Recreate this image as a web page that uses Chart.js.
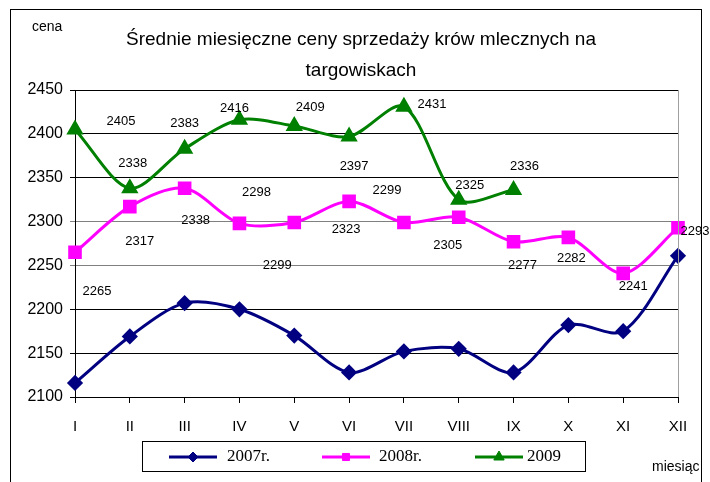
<!DOCTYPE html>
<html>
<head>
<meta charset="utf-8">
<script src="https://cdn.jsdelivr.net/npm/chart.js@4.4.1/dist/chart.umd.min.js"></script>
<style>
html, body { margin: 0; padding: 0; background: #fff; }
#wrap { width: 710px; height: 482px; position: relative; }
</style>
</head>
<body>
<div id="wrap"><canvas id="myChart"></canvas></div>
<script>
var miesiace = ["I", "II", "III", "IV", "V", "VI", "VII", "VIII", "IX", "X", "XI", "XII"];
var ceny2007 = [2116, 2169, 2207, 2200, 2170, 2128, 2152, 2155, 2128, 2182, 2175, 2261];
var ceny2008 = [2265, 2317, 2338, 2298, 2299, 2323, 2299, 2305, 2277, 2282, 2241, 2293];
var ceny2009 = [2405, 2338, 2383, 2416, 2409, 2397, 2431, 2325, 2336];
var yMin = 2100, yMax = 2450, yKrok = 50;
var tytul = ["Średnie miesięczne ceny sprzedaży krów mlecznych na", "targowiskach"];

// przesuniecia etykiet (jak w oryginale, rozrzucone)
var przes2008 = [[22, 39], [10, 35], [11, 32], [17, -31], [-17, 43], [-3, 28], [-17, -32], [-11, 28], [9, 24], [3, 21], [10, 13], [17, 4]];
var przes2009 = [[46, -8], [3, -25], [0, -25], [-5, -11], [16, -19], [5, 30], [28, -2], [11, -14], [11, -24]];

var dodatki = {
    id: 'dodatki',
    afterDraw: function(chart) {
        var ctx = chart.ctx;
        var a = chart.chartArea;
        ctx.save();

        // ramka
        ctx.strokeStyle = '#000';
        ctx.lineWidth = 1;
        ctx.strokeRect(10.5, 9.5, 691, 490);

        // prawa krawedz obszaru
        ctx.strokeStyle = '#a0a0a0';
        ctx.beginPath();
        ctx.moveTo(a.right + 0.5, a.top);
        ctx.lineTo(a.right + 0.5, a.bottom);
        ctx.stroke();

        ctx.fillStyle = '#000';
        ctx.textAlign = 'center';
        ctx.textBaseline = 'middle';
        ctx.font = '19px "Liberation Sans", Arial, sans-serif';
        ctx.fillText(tytul[0], 361, 40);
        ctx.fillText(tytul[1], 361, 71);

        ctx.font = '14px "Liberation Sans", Arial, sans-serif';
        ctx.textAlign = 'left';
        ctx.fillText('cena', 32, 27);
        ctx.fillText('miesiąc', 652, 467);

        // etykiety danych
        ctx.font = '13px "Liberation Sans", Arial, sans-serif';
        ctx.textAlign = 'center';
        var rysuj = function(idx, przes) {
            var meta = chart.getDatasetMeta(idx);
            var dane = chart.data.datasets[idx].data;
            meta.data.forEach(function(pt, i) {
                ctx.fillText(dane[i], pt.x + przes[i][0], pt.y + przes[i][1]);
            });
        };
        rysuj(1, przes2008);
        rysuj(2, przes2009);

        // legenda
        ctx.strokeStyle = '#000';
        ctx.lineWidth = 1;
        ctx.strokeRect(142.5, 441.5, 443, 30);
        var xs = [169, 322, 475];
        var tx = [227, 379, 527];
        var rozm = [5, 5, 6];
        ctx.font = '17px "Liberation Serif", "Times New Roman", serif';
        ctx.textAlign = 'left';
        chart.data.datasets.forEach(function(ds, i) {
            var x0 = xs[i], y0 = 457;
            ctx.strokeStyle = ds.borderColor;
            ctx.lineWidth = 3;
            ctx.beginPath();
            ctx.moveTo(x0, y0);
            ctx.lineTo(x0 + 48, y0);
            ctx.stroke();
            ctx.fillStyle = ds.pointBackgroundColor;
            ctx.strokeStyle = ds.borderColor;
            ctx.lineWidth = 1;
            Chart.helpers.drawPoint(ctx, { pointStyle: ds.pointStyle, radius: rozm[i], rotation: 0, borderWidth: 1 }, x0 + 24, y0);
            ctx.fillStyle = '#000';
            ctx.fillText(ds.label, tx[i], y0);
        });

        ctx.restore();
    }
};

var ctx = document.getElementById("myChart");
var myChart = new Chart(ctx, {
    type: 'line',
    data: {
        labels: miesiace,
        datasets: [{
            label: '2007r.',
            data: ceny2007,
            borderColor: '#000080',
            backgroundColor: '#000080',
            pointBackgroundColor: '#000080',
            pointBorderColor: '#000080',
            pointStyle: 'rectRot',
            pointRadius: 6,
            borderWidth: 3,
            tension: 0.3,
            order: 3
        }, {
            label: '2008r.',
            data: ceny2008,
            borderColor: '#ff00ff',
            backgroundColor: '#ff00ff',
            pointBackgroundColor: '#ff00ff',
            pointBorderColor: '#ff00ff',
            pointStyle: 'rect',
            pointRadius: 7.5,
            borderWidth: 3,
            tension: 0.3,
            order: 2
        }, {
            label: '2009',
            data: ceny2009,
            borderColor: '#008000',
            backgroundColor: '#008000',
            pointBackgroundColor: '#008000',
            pointBorderColor: '#008000',
            pointStyle: 'triangle',
            pointRadius: 7,
            borderWidth: 3,
            tension: 0.3,
            order: 1
        }]
    },
    options: {
        responsive: true,
        maintainAspectRatio: false,
        animation: false,
        layout: { padding: { left: 15, right: 32, top: 90, bottom: 45 } },
        plugins: {
            legend: { display: false },
            title: { display: false },
            tooltip: { enabled: false }
        },
        scales: {
            x: {
                offset: false,
                grid: { display: true, drawOnChartArea: false, drawTicks: true, tickLength: 6, color: '#000' },
                border: { display: true, color: '#000', width: 1 },
                ticks: {
                    color: '#000',
                    padding: 15,
                    maxRotation: 0,
                    autoSkip: false,
                    font: { family: '"Liberation Sans Narrow", "Liberation Sans", Arial, sans-serif', size: 15 }
                },
                afterFit: function(s) { s.height = 40; }
            },
            y: {
                min: yMin,
                max: yMax,
                grid: {
                    tickLength: 5,
                    color: function(c) {
                        var v = c.tick ? c.tick.value : 0;
                        return (v == 2300 || v == 2250) ? '#808080' : '#000';
                    }
                },
                border: { display: true, color: '#000', width: 1 },
                ticks: {
                    stepSize: yKrok,
                    color: '#000',
                    padding: 7,
                    callback: function(v) { return String(v); },
                    font: { family: '"Liberation Sans", Arial, sans-serif', size: 16 }
                },
                afterFit: function(s) { s.width = 60; }
            }
        }
    },
    plugins: [dodatki]
});
</script>
</body>
</html>
